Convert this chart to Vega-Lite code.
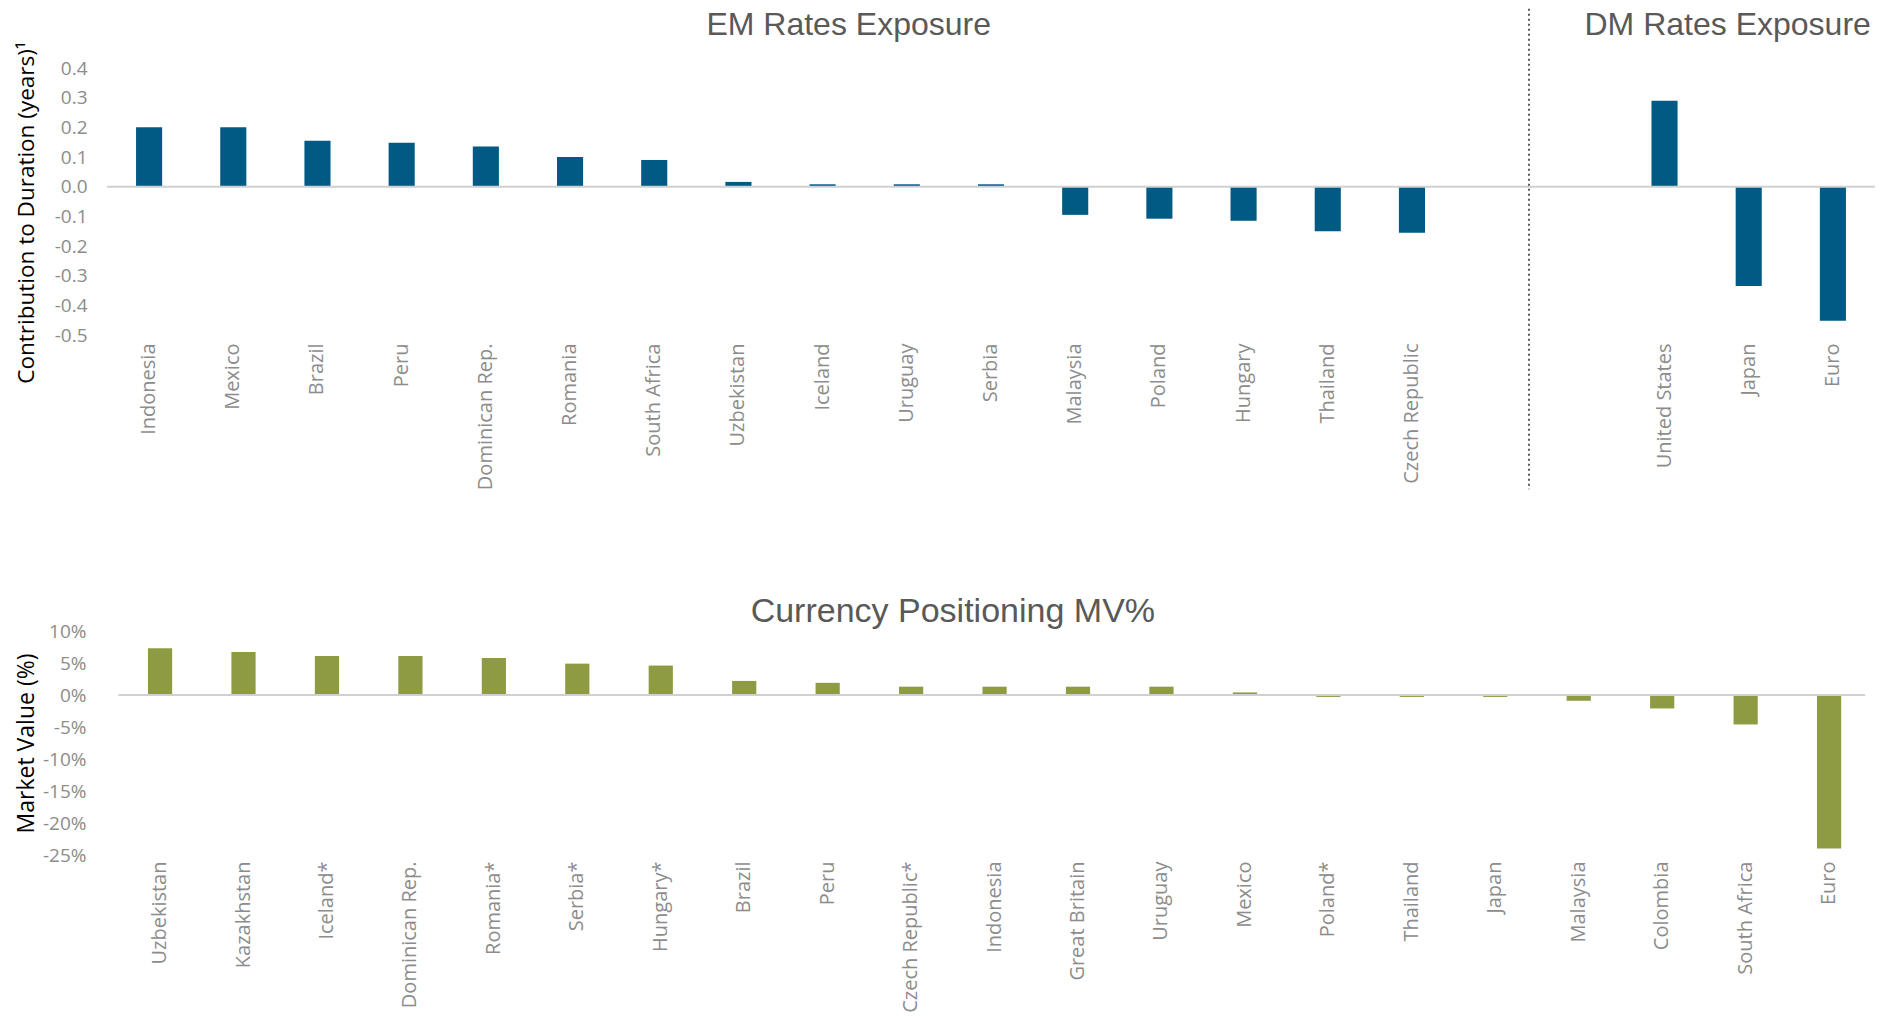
{
  "$schema": "https://vega.github.io/schema/vega-lite/v6.json",
  "background": "white",
  "padding": {"left": 14, "top": 7, "right": 5, "bottom": 0},
  "bounds": "flush",
  "spacing": 296,
  "config": {"view": {"stroke": null}, "axis": {"labelOverlap": false}},
  "datasets": {
    "rates": [
      {"country": "Indonesia", "value": 0.20},
      {"country": "Mexico", "value": 0.20},
      {"country": "Brazil", "value": 0.155},
      {"country": "Peru", "value": 0.148},
      {"country": "Dominican Rep.", "value": 0.135},
      {"country": "Romania", "value": 0.10},
      {"country": "South Africa", "value": 0.09},
      {"country": "Uzbekistan", "value": 0.016},
      {"country": "Iceland", "value": 0.008},
      {"country": "Uruguay", "value": 0.008},
      {"country": "Serbia", "value": 0.008},
      {"country": "Malaysia", "value": -0.095},
      {"country": "Poland", "value": -0.108},
      {"country": "Hungary", "value": -0.115},
      {"country": "Thailand", "value": -0.15},
      {"country": "Czech Republic", "value": -0.155},
      {"country": "United States", "value": 0.29},
      {"country": "Japan", "value": -0.335},
      {"country": "Euro", "value": -0.452}
    ],
    "fx": [
      {"country": "Uzbekistan", "value": 7.3},
      {"country": "Kazakhstan", "value": 6.7},
      {"country": "Iceland*", "value": 6.1},
      {"country": "Dominican Rep.", "value": 6.1},
      {"country": "Romania*", "value": 5.8},
      {"country": "Serbia*", "value": 4.9},
      {"country": "Hungary*", "value": 4.6},
      {"country": "Brazil", "value": 2.2},
      {"country": "Peru", "value": 1.9},
      {"country": "Czech Republic*", "value": 1.3},
      {"country": "Indonesia", "value": 1.3},
      {"country": "Great Britain", "value": 1.3},
      {"country": "Uruguay", "value": 1.3},
      {"country": "Mexico", "value": 0.4},
      {"country": "Poland*", "value": -0.3},
      {"country": "Thailand", "value": -0.3},
      {"country": "Japan", "value": -0.3},
      {"country": "Malaysia", "value": -0.9},
      {"country": "Colombia", "value": -2.1},
      {"country": "South Africa", "value": -4.6},
      {"country": "Euro", "value": -24.0}
    ]
  },
  "vconcat": [
    {
      "width": 1768,
      "height": 267,
      "layer": [
        {
          "data": {"name": "rates"},
          "mark": {"type": "bar", "color": "#005a84", "width": {"band": 0.31}},
          "encoding": {
            "x": {
              "field": "country",
              "type": "nominal",
              "scale": {
                "domain": ["Indonesia", "Mexico", "Brazil", "Peru", "Dominican Rep.", "Romania", "South Africa", "Uzbekistan", "Iceland", "Uruguay", "Serbia", "Malaysia", "Poland", "Hungary", "Thailand", "Czech Republic", "gap1", "gap2", "United States", "Japan", "Euro"],
                "paddingInner": 0,
                "paddingOuter": 0
              },
              "axis": {
                "title": null,
                "labelAngle": -90,
                "labelAlign": "right",
                "labelBaseline": "middle",
                "labelFont": "Open Sans",
                "labelFontSize": 20,
                "labelColor": "#8c8c8c",
                "labelPadding": 8,
                "labelLimit": 0,
                "labelOverlap": false,
                "domain": false,
                "ticks": false,
                "grid": false,
                "labelExpr": "indexof(datum.value, 'gap') == 0 ? '' : datum.value"
              }
            },
            "y": {
              "field": "value",
              "type": "quantitative",
              "scale": {"domain": [-0.5, 0.4], "nice": false, "zero": false},
              "axis": {
                "title": "Contribution to Duration (years)¹",
                "titleFont": "Open Sans",
                "titleFontSize": 22.5,
                "titleFontWeight": "normal",
                "titleColor": "#000000",
                "titleX": -81,
                "titleY": 144,
                "titleAlign": "center",
                "titleBaseline": "middle",
                "values": [-0.5, -0.4, -0.3, -0.2, -0.1, 0, 0.1, 0.2, 0.3, 0.4],
                "tickCount": 20,
                "labelExpr": "replace(format(datum.value, '.1f'), '−', '-')",
                "labelFont": "Open Sans",
                "labelFontSize": 19,
                "labelColor": "#8c8c8c",
                "labelPadding": 20,
                "labelOverlap": false,
                "domain": false,
                "ticks": false,
                "grid": false
              }
            }
          }
        },
        {
          "data": {"values": [{}]},
          "mark": {"type": "rule", "color": "#d0d0d0", "strokeWidth": 2},
          "encoding": {"y": {"datum": 0, "type": "quantitative"}}
        },
        {
          "data": {"values": [{}]},
          "mark": {"type": "rule", "color": "#595959", "strokeWidth": 2, "strokeDash": [2, 3]},
          "encoding": {
            "x": {"datum": "gap1", "bandPosition": 0.89},
            "y": {"datum": 0.6, "type": "quantitative"},
            "y2": {"datum": -1.02}
          }
        },
        {
          "data": {"values": [{}]},
          "mark": {"type": "text", "text": "EM Rates Exposure", "font": "Liberation Sans", "fontSize": 32, "color": "#595959", "baseline": "middle", "align": "center"},
          "encoding": {
            "x": {"datum": "Iceland", "bandPosition": 0.81},
            "y": {"datum": 0.544, "type": "quantitative"}
          }
        },
        {
          "data": {"values": [{}]},
          "mark": {"type": "text", "text": "DM Rates Exposure", "font": "Liberation Sans", "fontSize": 32, "color": "#595959", "baseline": "middle", "align": "center"},
          "encoding": {
            "x": {"datum": "Japan", "bandPosition": 0.25},
            "y": {"datum": 0.544, "type": "quantitative"}
          }
        }
      ]
    },
    {
      "width": 1768,
      "height": 224,
      "layer": [
        {
          "data": {"name": "fx"},
          "mark": {"type": "bar", "color": "#8f9b43", "width": {"band": 0.29}},
          "encoding": {
            "x": {
              "field": "country",
              "type": "nominal",
              "sort": null,
              "scale": {"paddingInner": 0, "paddingOuter": 0.093, "align": 0.73},
              "axis": {
                "title": null,
                "labelAngle": -90,
                "labelAlign": "right",
                "labelBaseline": "middle",
                "labelFont": "Open Sans",
                "labelFontSize": 20,
                "labelColor": "#8c8c8c",
                "labelPadding": 6,
                "labelLimit": 0,
                "labelOverlap": false,
                "domain": false,
                "ticks": false,
                "grid": false
              }
            },
            "y": {
              "field": "value",
              "type": "quantitative",
              "scale": {"domain": [-25, 10], "nice": false, "zero": false},
              "axis": {
                "title": "Market Value (%)",
                "titleFont": "Open Sans",
                "titleFontSize": 23,
                "titleFontWeight": "normal",
                "titleColor": "#000000",
                "titleX": -81,
                "titleAlign": "center",
                "titleBaseline": "middle",
                "values": [-25, -20, -15, -10, -5, 0, 5, 10],
                "tickCount": 20,
                "labelExpr": "replace(format(datum.value, 'd'), '−', '-') + '%'",
                "labelFont": "Open Sans",
                "labelFontSize": 19,
                "labelColor": "#8c8c8c",
                "labelPadding": 21,
                "labelOverlap": false,
                "domain": false,
                "ticks": false,
                "grid": false
              }
            }
          }
        },
        {
          "data": {"values": [{}]},
          "mark": {"type": "rule", "color": "#d0d0d0", "strokeWidth": 2},
          "encoding": {
            "x": {"datum": "Uzbekistan", "bandPosition": 0},
            "x2": {"datum": "Euro", "bandPosition": 0.93},
            "y": {"datum": 0, "type": "quantitative"}
          }
        },
        {
          "data": {"values": [{}]},
          "mark": {"type": "text", "text": "Currency Positioning MV%", "font": "Liberation Sans", "fontSize": 34, "color": "#595959", "baseline": "middle", "align": "center"},
          "encoding": {
            "x": {"datum": "Indonesia", "bandPosition": 0},
            "y": {"datum": 13, "type": "quantitative"}
          }
        }
      ]
    }
  ]
}
